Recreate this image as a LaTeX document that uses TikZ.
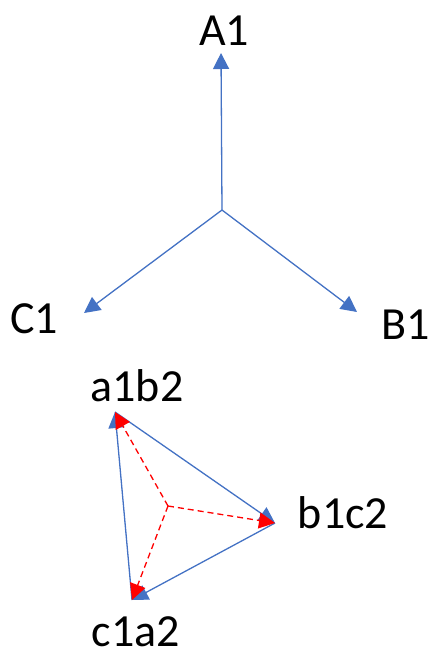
\documentclass[tikz,border=0pt]{standalone}
\usepackage{fontspec}
\setmainfont{Carlito}
\usetikzlibrary{arrows.meta}
\definecolor{officeblue}{HTML}{4472C4}
\tikzset{
  lbl/.style={anchor=base, inner sep=0pt, text depth=0pt,
    font=\fontsize{46}{55}\selectfont},
  bluearrow/.style={draw=officeblue, line width=1.3pt,
    -{Triangle[length=16pt,width=16pt]}, fill=officeblue},
  redarrow/.style={draw=red, line width=1.3pt, dash pattern=on 6pt off 4pt,
    -{Triangle[length=16pt,width=16pt,fill=red]}},
}
\begin{document}
\begin{tikzpicture}[x=1pt,y=-1pt]
\useasboundingbox (0,0) rectangle (429,657);

% star of the primary phasors
\coordinate (o) at (222,210);
\coordinate (ta) at (221,53);
\coordinate (tc) at (84,313);
\coordinate (tb) at (357,312);
\draw[bluearrow] (o) -- (ta);
\draw[bluearrow] (o) -- (tc);
\draw[bluearrow] (o) -- (tb);

\node[lbl] (A1) at (224,45) {A1};
\node[lbl] (C1) at (34,333) {C1};
\node[lbl] (B1) at (406,339) {B1};

% triangle of the secondary phasors
\coordinate (p) at (168,506);
\coordinate (vab) at (115,412);
\coordinate (vbc) at (275,523);
\coordinate (vca) at (132,600);
\draw[bluearrow] (vca) -- (vab);
\draw[bluearrow] (vab) -- (vbc);
\draw[bluearrow] (vbc) -- (vca);
\draw[redarrow] (p) -- (vab);
\draw[redarrow] (p) -- (vbc);
\draw[redarrow] (p) -- (vca);

\node[lbl] (ab) at (137,401) {a1b2};
\node[lbl] (bc) at (343,528) {b1c2};
\node[lbl] (ca) at (136,646) {c1a2};
\end{tikzpicture}
\end{document}
